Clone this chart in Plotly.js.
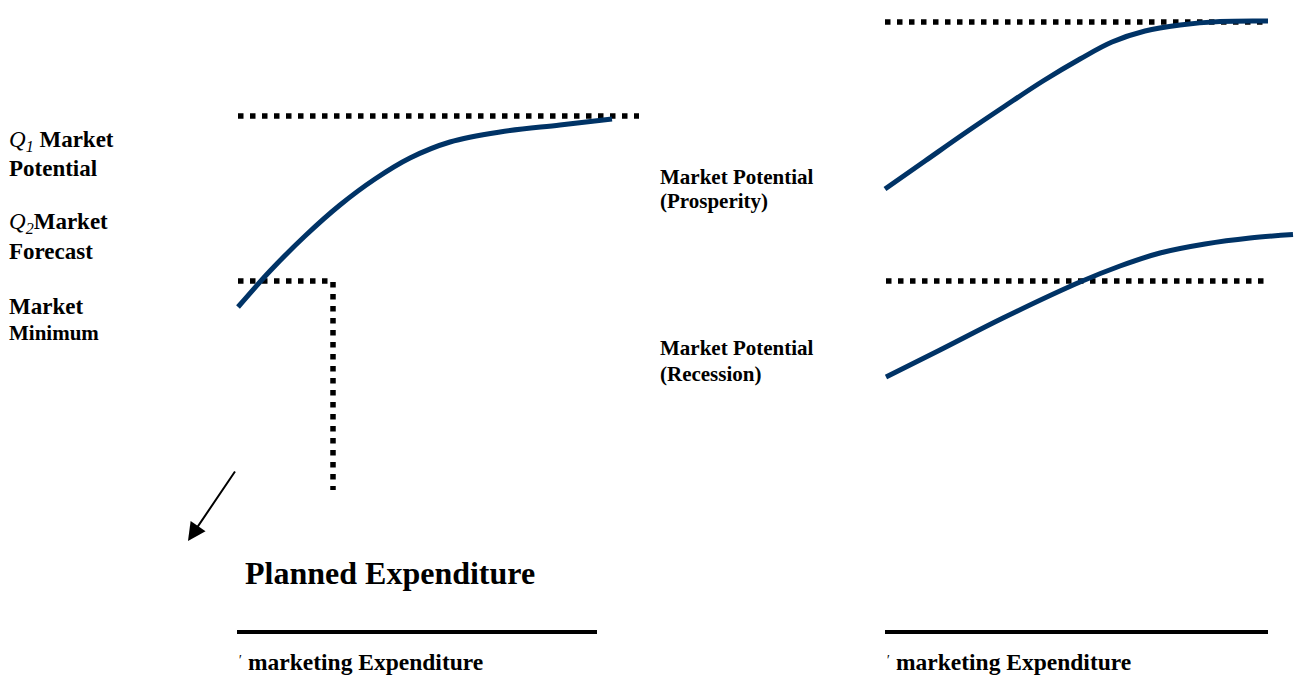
<!DOCTYPE html>
<html>
<head>
<meta charset="utf-8">
<script src="https://cdn.plot.ly/plotly-3.0.1.min.js"></script>
<style>html,body{margin:0;padding:0;background:#fff;}#chart{width:1298px;height:680px;}</style>
</head>
<body>
<div id="chart"></div>
<script>
// ---- Diagram data (page-pixel coordinate space: x 0..1298, y 0..680 downward) ----
// Left panel: market response curve
const leftCurveX = [238, 270, 305, 340, 375, 410, 450, 500, 560, 612];
const leftCurveY = [307, 271, 236, 205, 179, 158, 142, 132, 125, 119];
// Left panel: market potential level (dotted) and market minimum / planned expenditure (dotted)
const leftPotentialX = [238, 639];
const leftPotentialY = [116, 116];
const leftMinimumX = [238, 333, 333];
const leftMinimumY = [281, 281, 490];
const leftBaseX = [237, 597];
const leftBaseY = [632, 632];

// Right panel: prosperity curve and recession curve
const prosperityX = [885, 925, 965, 1005, 1043, 1080, 1112, 1145, 1180, 1220, 1268];
const prosperityY = [189, 161, 133, 106, 81, 59, 42, 31, 25, 21.5, 21];
const recessionX = [886, 940, 1003, 1080, 1120, 1160, 1205, 1250, 1293];
const recessionY = [377, 350, 318, 282, 266, 253, 244, 238, 234.5];
const prosperityLevelX = [885, 1264];
const prosperityLevelY = [22, 22];
const recessionLevelX = [886, 1264];
const recessionLevelY = [281, 281];
const rightBaseX = [885, 1268];
const rightBaseY = [632, 632];

// Labels
const leftLabels = ["<i>Q<sub>1</sub></i> <b>Market</b>", "<b>Potential</b>", "<i>Q<sub>2</sub></i><b>Market</b>", "<b>Forecast</b>", "<b>Market</b>", "<b>Minimum</b>"];
const leftLabelY = [141, 168, 223, 251, 306, 333];
const leftLabelSize = [23, 23, 23, 23, 23, 21];
const rightLabels = ["<b>Market Potential</b>", "<b>(Prosperity)</b>", "<b>Market Potential</b>", "<b>(Recession)</b>"];
const rightLabelY = [177, 201, 348, 374];
const titleText = "<b>Planned Expenditure</b>";
const axisText = "<b>marketing Expenditure</b>";

const navy = "#003366";
const FONT = "Liberation Serif, Times New Roman, serif";
const dotted = {color: "#000", width: 5.5, dash: "5.5px,6.5px"};

function lineTrace(x, y, line, shape) {
  return {x: x, y: y, mode: "lines", type: "scatter", hoverinfo: "skip", showlegend: false,
          line: Object.assign({shape: shape || "linear"}, line)};
}

const traces = [
  lineTrace(leftPotentialX, leftPotentialY, dotted),
  lineTrace(leftMinimumX, leftMinimumY, dotted),
  lineTrace(leftBaseX, leftBaseY, {color: "#000", width: 4}),
  lineTrace(leftCurveX, leftCurveY, {color: navy, width: 5, smoothing: 1}, "spline"),
  lineTrace(prosperityLevelX, prosperityLevelY, dotted),
  lineTrace(recessionLevelX, recessionLevelY, dotted),
  lineTrace(rightBaseX, rightBaseY, {color: "#000", width: 4}),
  lineTrace(prosperityX, prosperityY, {color: navy, width: 5, smoothing: 1}, "spline"),
  lineTrace(recessionX, recessionY, {color: navy, width: 5, smoothing: 1}, "spline")
];

const annotations = [];
leftLabels.forEach((t, i) => annotations.push({
  x: 7, y: leftLabelY[i], xref: "x", yref: "y", text: t, showarrow: false,
  xanchor: "left", yanchor: "middle", font: {family: FONT, size: leftLabelSize[i], color: "#000"}
}));
rightLabels.forEach((t, i) => annotations.push({
  x: 658, y: rightLabelY[i], xref: "x", yref: "y", text: t, showarrow: false,
  xanchor: "left", yanchor: "middle", font: {family: FONT, size: 21, color: "#000"}
}));
annotations.push({x: 243, y: 573, xref: "x", yref: "y", text: titleText, showarrow: false,
  xanchor: "left", yanchor: "middle", font: {family: FONT, size: 32, color: "#000"}});
[236, 884].forEach(x0 => {
  annotations.push({x: x0, y: 660, xref: "x", yref: "y", text: "<i>′</i>", showarrow: false,
    xanchor: "left", yanchor: "middle", font: {family: FONT, size: 14, color: "#000"}});
  annotations.push({x: x0 + 10, y: 662, xref: "x", yref: "y", text: axisText, showarrow: false,
    xanchor: "left", yanchor: "middle", font: {family: FONT, size: 23.5, color: "#000"}});
});
// Arrow
annotations.push({x: 188, y: 541, ax: 236, ay: 470, xref: "x", yref: "y", axref: "x", ayref: "y",
  text: "", showarrow: true, arrowhead: 2, arrowsize: 1.8, arrowwidth: 2, arrowcolor: "#000"});

const layout = {
  width: 1298, height: 680,
  margin: {l: 0, r: 0, t: 0, b: 0, pad: 0},
  paper_bgcolor: "#fff", plot_bgcolor: "#fff",
  showlegend: false,
  xaxis: {range: [0, 1298], visible: false, fixedrange: true},
  yaxis: {range: [680, 0], visible: false, fixedrange: true},
  annotations: annotations
};

Plotly.newPlot("chart", traces, layout, {staticPlot: true, displayModeBar: false});
</script>
</body>
</html>
